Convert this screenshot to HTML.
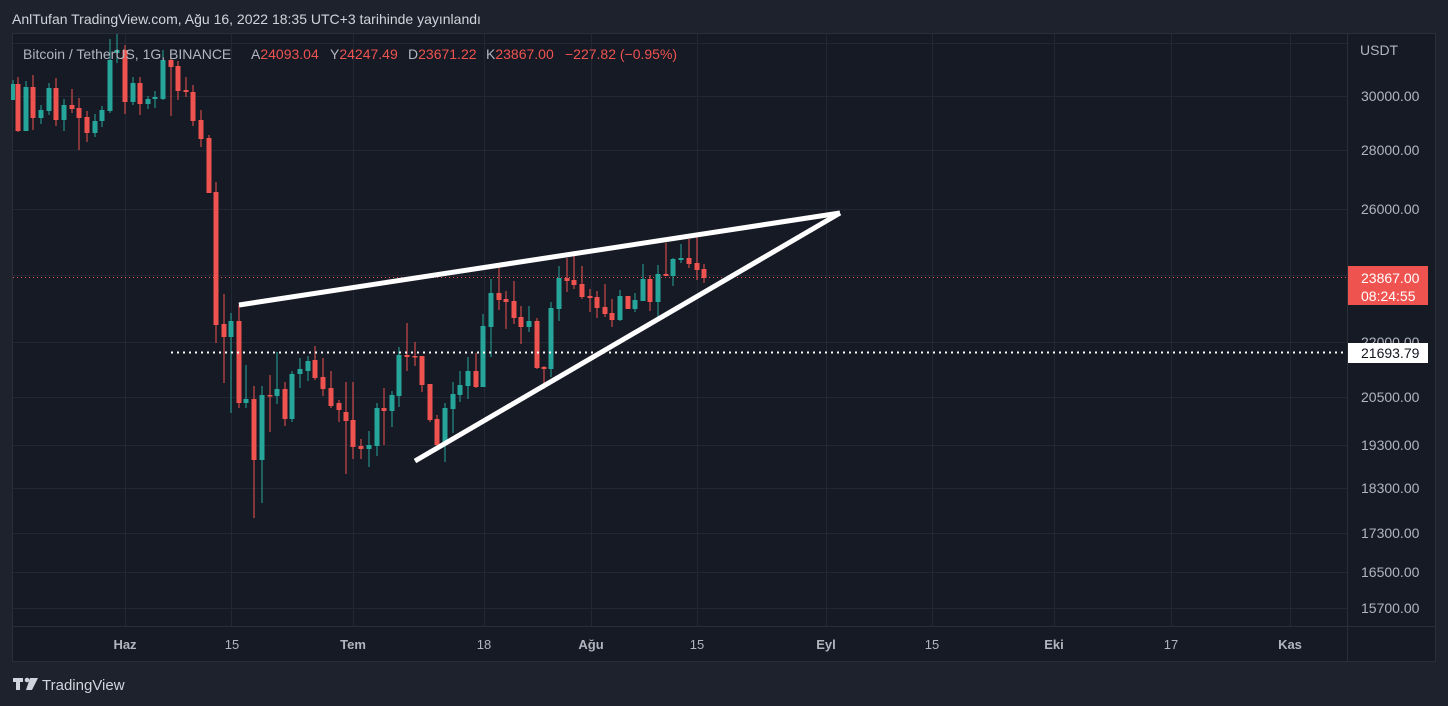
<!DOCTYPE html>
<html><head><meta charset="utf-8"><style>
body{margin:0;width:1448px;height:706px;background:#1e222d;overflow:hidden;font-family:"Liberation Sans",sans-serif}
text{white-space:pre}
</style></head><body>
<svg width="1448" height="706" xmlns="http://www.w3.org/2000/svg" style="position:absolute;left:0;top:0">
<rect x="0" y="0" width="1448" height="706" fill="#1e222d"/>
<rect x="12.5" y="33.5" width="1423" height="628" fill="#161a25" stroke="#2a2e39"/>
<text x="12" y="24" fill="#d1d4dc" font-size="14">AnlTufan TradingView.com, Ağu 16, 2022 18:35 UTC+3 tarihinde yayınlandı</text>
<g stroke="#232733" stroke-width="1">
<line x1="13" y1="43.5" x2="1347" y2="43.5"/>
<line x1="13" y1="96.5" x2="1347" y2="96.5"/><line x1="13" y1="150.5" x2="1347" y2="150.5"/>
<line x1="13" y1="209.5" x2="1347" y2="209.5"/><line x1="13" y1="275.5" x2="1347" y2="275.5"/>
<line x1="13" y1="342.5" x2="1347" y2="342.5"/><line x1="13" y1="397.5" x2="1347" y2="397.5"/>
<line x1="13" y1="445.5" x2="1347" y2="445.5"/><line x1="13" y1="488.5" x2="1347" y2="488.5"/>
<line x1="13" y1="533.5" x2="1347" y2="533.5"/><line x1="13" y1="572.5" x2="1347" y2="572.5"/>
<line x1="13" y1="608.5" x2="1347" y2="608.5"/>
<line x1="125.5" y1="34" x2="125.5" y2="626"/><line x1="231.5" y1="34" x2="231.5" y2="626"/>
<line x1="353.5" y1="34" x2="353.5" y2="626"/><line x1="484.5" y1="34" x2="484.5" y2="626"/>
<line x1="591.5" y1="34" x2="591.5" y2="626"/><line x1="697.5" y1="34" x2="697.5" y2="626"/>
<line x1="826.5" y1="34" x2="826.5" y2="626"/><line x1="932.5" y1="34" x2="932.5" y2="626"/>
<line x1="1054.5" y1="34" x2="1054.5" y2="626"/><line x1="1171.5" y1="34" x2="1171.5" y2="626"/>
<line x1="1290.5" y1="34" x2="1290.5" y2="626"/>
</g>
<line x1="1347.5" y1="34" x2="1347.5" y2="661" stroke="#2a2e39"/>
<line x1="13" y1="626.5" x2="1435" y2="626.5" stroke="#2a2e39"/>
<line x1="13" y1="277.5" x2="1347" y2="277.5" stroke="#f05350" stroke-dasharray="1,3"/>
<g id="c">
<g fill="#26a69a" stroke="#26a69a">
<line x1="13" y1="80" x2="13" y2="100"/><line x1="26" y1="81" x2="26" y2="131"/><line x1="41" y1="105" x2="41" y2="124"/><line x1="49" y1="83" x2="49" y2="115"/><line x1="64" y1="99" x2="64" y2="131"/><line x1="95" y1="114" x2="95" y2="137"/><line x1="102" y1="106" x2="102" y2="127"/><line x1="110" y1="39" x2="110" y2="113"/><line x1="117" y1="34" x2="117" y2="63"/><line x1="133" y1="77" x2="133" y2="105"/><line x1="148" y1="96" x2="148" y2="109"/><line x1="155" y1="91" x2="155" y2="108"/><line x1="163" y1="50" x2="163" y2="100"/><line x1="231" y1="313" x2="231" y2="413"/><line x1="246" y1="365" x2="246" y2="408"/><line x1="262" y1="386" x2="262" y2="503"/><line x1="277" y1="352" x2="277" y2="404"/><line x1="292" y1="371" x2="292" y2="422"/><line x1="300" y1="358" x2="300" y2="388"/><line x1="308" y1="356" x2="308" y2="381"/><line x1="369" y1="431" x2="369" y2="467"/><line x1="377" y1="403" x2="377" y2="456"/><line x1="392" y1="391" x2="392" y2="427"/><line x1="399" y1="347" x2="399" y2="407"/><line x1="445" y1="403" x2="445" y2="462"/><line x1="453" y1="382" x2="453" y2="433"/><line x1="460" y1="371" x2="460" y2="402"/><line x1="468" y1="357" x2="468" y2="399"/><line x1="483" y1="314" x2="483" y2="387"/><line x1="491" y1="279" x2="491" y2="357"/><line x1="529" y1="306" x2="529" y2="332"/><line x1="551" y1="302" x2="551" y2="377"/><line x1="559" y1="266" x2="559" y2="321"/><line x1="620" y1="290" x2="620" y2="321"/><line x1="635" y1="293" x2="635" y2="312"/><line x1="643" y1="264" x2="643" y2="301"/><line x1="658" y1="265" x2="658" y2="318"/><line x1="673" y1="258" x2="673" y2="286"/><line x1="681" y1="244" x2="681" y2="263"/>
<rect x="11" y="84" width="4" height="16" stroke="none"/><rect x="23.5" y="87" width="5" height="44" stroke="none"/><rect x="38.5" y="110" width="5" height="8" stroke="none"/><rect x="46.5" y="88" width="5" height="23" stroke="none"/><rect x="61.5" y="105" width="5" height="15" stroke="none"/><rect x="92.5" y="121" width="5" height="12" stroke="none"/><rect x="99.5" y="110" width="5" height="11" stroke="none"/><rect x="107.5" y="60" width="5" height="51" stroke="none"/><rect x="114.5" y="50" width="5" height="3" stroke="none"/><rect x="130.5" y="83" width="5" height="19" stroke="none"/><rect x="145.5" y="99" width="5" height="5" stroke="none"/><rect x="152.5" y="97" width="5" height="2" stroke="none"/><rect x="160.5" y="60" width="5" height="39" stroke="none"/><rect x="228.5" y="321" width="5" height="16" stroke="none"/><rect x="243.5" y="399" width="5" height="4" stroke="none"/><rect x="259.5" y="395" width="5" height="65" stroke="none"/><rect x="274.5" y="389" width="5" height="7" stroke="none"/><rect x="289.5" y="374" width="5" height="45" stroke="none"/><rect x="297.5" y="369" width="5" height="5" stroke="none"/><rect x="305.5" y="361" width="5" height="10" stroke="none"/><rect x="366.5" y="445" width="5" height="4" stroke="none"/><rect x="374.5" y="408" width="5" height="38" stroke="none"/><rect x="389.5" y="395" width="5" height="16" stroke="none"/><rect x="396.5" y="355" width="5" height="41" stroke="none"/><rect x="442.5" y="408" width="5" height="37" stroke="none"/><rect x="450.5" y="394" width="5" height="15" stroke="none"/><rect x="457.5" y="385" width="5" height="10" stroke="none"/><rect x="465.5" y="371" width="5" height="15" stroke="none"/><rect x="480.5" y="326" width="5" height="61" stroke="none"/><rect x="488.5" y="293" width="5" height="34" stroke="none"/><rect x="526.5" y="321" width="5" height="6" stroke="none"/><rect x="548.5" y="308" width="5" height="61" stroke="none"/><rect x="556.5" y="278" width="5" height="31" stroke="none"/><rect x="617.5" y="296" width="5" height="24" stroke="none"/><rect x="632.5" y="300" width="5" height="9" stroke="none"/><rect x="640.5" y="279" width="5" height="22" stroke="none"/><rect x="655.5" y="274" width="5" height="28" stroke="none"/><rect x="670.5" y="259" width="5" height="17" stroke="none"/><rect x="678.5" y="258" width="5" height="2" stroke="none"/>
</g>
<g fill="#ef5350" stroke="#ef5350">
<line x1="18" y1="77" x2="18" y2="132"/><line x1="33" y1="75" x2="33" y2="130"/><line x1="56" y1="78" x2="56" y2="126"/><line x1="72" y1="89" x2="72" y2="113"/><line x1="79" y1="98" x2="79" y2="150"/><line x1="87" y1="111" x2="87" y2="142"/><line x1="125" y1="45" x2="125" y2="114"/><line x1="140" y1="77" x2="140" y2="115"/><line x1="171" y1="57" x2="171" y2="116"/><line x1="178" y1="61" x2="178" y2="100"/><line x1="186" y1="77" x2="186" y2="97"/><line x1="193" y1="85" x2="193" y2="126"/><line x1="201" y1="110" x2="201" y2="147"/><line x1="209" y1="135" x2="209" y2="193"/><line x1="216" y1="182" x2="216" y2="343"/><line x1="224" y1="294" x2="224" y2="383"/><line x1="239" y1="305" x2="239" y2="408"/><line x1="254" y1="386" x2="254" y2="518"/><line x1="270" y1="375" x2="270" y2="432"/><line x1="285" y1="382" x2="285" y2="426"/><line x1="315" y1="346" x2="315" y2="380"/><line x1="323" y1="358" x2="323" y2="396"/><line x1="331" y1="371" x2="331" y2="408"/><line x1="339" y1="400" x2="339" y2="422"/><line x1="346" y1="382" x2="346" y2="474"/><line x1="353" y1="382" x2="353" y2="459"/><line x1="361" y1="439" x2="361" y2="459"/><line x1="384" y1="388" x2="384" y2="445"/><line x1="407" y1="323" x2="407" y2="371"/><line x1="415" y1="342" x2="415" y2="366"/><line x1="422" y1="356" x2="422" y2="392"/><line x1="430" y1="384" x2="430" y2="422"/><line x1="437" y1="415" x2="437" y2="447"/><line x1="476" y1="353" x2="476" y2="388"/><line x1="499" y1="263" x2="499" y2="310"/><line x1="506" y1="291" x2="506" y2="329"/><line x1="514" y1="281" x2="514" y2="324"/><line x1="521" y1="306" x2="521" y2="344"/><line x1="537" y1="318" x2="537" y2="369"/><line x1="544" y1="366" x2="544" y2="389"/><line x1="567" y1="258" x2="567" y2="292"/><line x1="574" y1="251" x2="574" y2="289"/><line x1="582" y1="266" x2="582" y2="299"/><line x1="590" y1="289" x2="590" y2="312"/><line x1="597" y1="291" x2="597" y2="318"/><line x1="605" y1="284" x2="605" y2="317"/><line x1="612" y1="299" x2="612" y2="327"/><line x1="628" y1="296" x2="628" y2="309"/><line x1="650" y1="275" x2="650" y2="311"/><line x1="666" y1="243" x2="666" y2="276"/><line x1="689" y1="239" x2="689" y2="268"/><line x1="697" y1="233" x2="697" y2="280"/><line x1="704" y1="264" x2="704" y2="283"/>
<rect x="15.5" y="84" width="5" height="47" stroke="none"/><rect x="30.5" y="87" width="5" height="31" stroke="none"/><rect x="53.5" y="88" width="5" height="32" stroke="none"/><rect x="69.5" y="105" width="5" height="4" stroke="none"/><rect x="76.5" y="108" width="5" height="10" stroke="none"/><rect x="84.5" y="117" width="5" height="16" stroke="none"/><rect x="122.5" y="50" width="5" height="52" stroke="none"/><rect x="137.5" y="83" width="5" height="21" stroke="none"/><rect x="168.5" y="60" width="5" height="7" stroke="none"/><rect x="175.5" y="66" width="5" height="25" stroke="none"/><rect x="183.5" y="90" width="5" height="2" stroke="none"/><rect x="190.5" y="92" width="5" height="29" stroke="none"/><rect x="198.5" y="120" width="5" height="19" stroke="none"/><rect x="206.5" y="138" width="5" height="55" stroke="none"/><rect x="213.5" y="192" width="5" height="133" stroke="none"/><rect x="221.5" y="324" width="5" height="13" stroke="none"/><rect x="236.5" y="321" width="5" height="82" stroke="none"/><rect x="251.5" y="399" width="5" height="61" stroke="none"/><rect x="267.5" y="395" width="5" height="1.5" stroke="none"/><rect x="282.5" y="389" width="5" height="30" stroke="none"/><rect x="312.5" y="360" width="5" height="18" stroke="none"/><rect x="320.5" y="377" width="5" height="12" stroke="none"/><rect x="328.5" y="388" width="5" height="18" stroke="none"/><rect x="336.5" y="403" width="5" height="7" stroke="none"/><rect x="343.5" y="412" width="5" height="9" stroke="none"/><rect x="350.5" y="420" width="5" height="27" stroke="none"/><rect x="358.5" y="446" width="5" height="3" stroke="none"/><rect x="381.5" y="408" width="5" height="3" stroke="none"/><rect x="404.5" y="355" width="5" height="2" stroke="none"/><rect x="412.5" y="356" width="5" height="1.5" stroke="none"/><rect x="419.5" y="356" width="5" height="29" stroke="none"/><rect x="427.5" y="384" width="5" height="36" stroke="none"/><rect x="434.5" y="419" width="5" height="26" stroke="none"/><rect x="473.5" y="371" width="5" height="16" stroke="none"/><rect x="496.5" y="293" width="5" height="7" stroke="none"/><rect x="503.5" y="299" width="5" height="3" stroke="none"/><rect x="511.5" y="301" width="5" height="17" stroke="none"/><rect x="518.5" y="317" width="5" height="10" stroke="none"/><rect x="534.5" y="321" width="5" height="47" stroke="none"/><rect x="541.5" y="367" width="5" height="2" stroke="none"/><rect x="564.5" y="278" width="5" height="3" stroke="none"/><rect x="571.5" y="280" width="5" height="5" stroke="none"/><rect x="579.5" y="284" width="5" height="13" stroke="none"/><rect x="587.5" y="296" width="5" height="2" stroke="none"/><rect x="594.5" y="297" width="5" height="11" stroke="none"/><rect x="602.5" y="307" width="5" height="7" stroke="none"/><rect x="609.5" y="313" width="5" height="7" stroke="none"/><rect x="625.5" y="296" width="5" height="13" stroke="none"/><rect x="647.5" y="279" width="5" height="23" stroke="none"/><rect x="663.5" y="274" width="5" height="2" stroke="none"/><rect x="686.5" y="258" width="5" height="6" stroke="none"/><rect x="694.5" y="263" width="5" height="7" stroke="none"/><rect x="701.5" y="269" width="5" height="9" stroke="none"/>
</g>
</g>
<line x1="171" y1="352.5" x2="1347" y2="352.5" stroke="#fff" stroke-width="2" stroke-dasharray="2,4"/>
<g stroke="#fff" stroke-width="5" stroke-linecap="butt">
<line x1="239" y1="305" x2="840" y2="213"/>
<line x1="415" y1="461" x2="840" y2="213"/>
</g>
<g font-size="14" fill="#b2b5be">
<text x="23" y="59">Bitcoin / TetherUS, 1G, BINANCE</text>
<text x="251" y="59">A<tspan fill="#ef5350">24093.04</tspan></text>
<text x="330" y="59">Y<tspan fill="#ef5350">24247.49</tspan></text>
<text x="408" y="59">D<tspan fill="#ef5350">23671.22</tspan></text>
<text x="486" y="59">K<tspan fill="#ef5350">23867.00</tspan></text>
<text x="565" y="59" fill="#ef5350">−227.82 (−0.95%)</text>
</g>
<g font-size="14" fill="#b2b5be">
<text x="1360" y="55">USDT</text>
<text x="1361" y="101">30000.00</text><text x="1361" y="155">28000.00</text><text x="1361" y="214">26000.00</text>
<text x="1361" y="347">22000.00</text><text x="1361" y="402">20500.00</text><text x="1361" y="450">19300.00</text>
<text x="1361" y="493">18300.00</text><text x="1361" y="538">17300.00</text><text x="1361" y="577">16500.00</text>
<text x="1361" y="613">15700.00</text>
</g>
<rect x="1348" y="266" width="80" height="39" fill="#ef5350"/>
<text x="1361" y="283" font-size="14" fill="#fff">23867.00</text>
<text x="1361" y="301" font-size="14" fill="#fff">08:24:55</text>
<rect x="1348" y="343" width="80" height="20" fill="#fff"/>
<text x="1361" y="358" font-size="14" fill="#131722">21693.79</text>
<g font-size="13" fill="#b2b5be" text-anchor="middle">
<text x="125" y="649" font-weight="bold">Haz</text><text x="232" y="649">15</text>
<text x="353" y="649" font-weight="bold">Tem</text><text x="484" y="649">18</text>
<text x="591" y="649" font-weight="bold">Ağu</text><text x="697" y="649">15</text>
<text x="826" y="649" font-weight="bold">Eyl</text><text x="932" y="649">15</text>
<text x="1054" y="649" font-weight="bold">Eki</text><text x="1171" y="649">17</text>
<text x="1290" y="649" font-weight="bold">Kas</text>
</g>
<g fill="#d1d4dc">
<rect x="13" y="678" width="10" height="4"/><rect x="16" y="678" width="4" height="12"/>
<circle cx="27" cy="680" r="2.3"/><polygon points="30,678 38,678 32,690 26,690"/>
</g>
<text x="42" y="690" font-size="15" fill="#d1d4dc">TradingView</text>
</svg>
</body></html>
